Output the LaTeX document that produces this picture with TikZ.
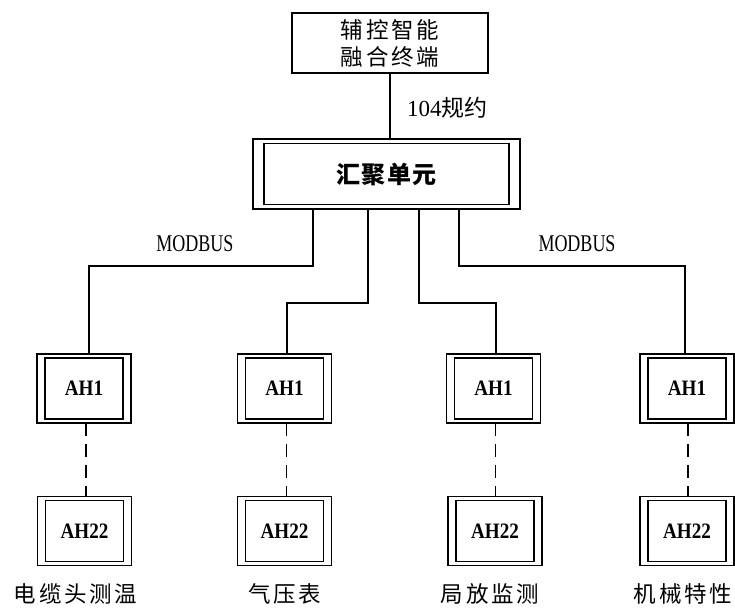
\documentclass[tikz,border=0pt]{standalone}
\usepackage{fontspec}
\setmainfont{Liberation Serif}
\newfontfamily\cjk[LetterSpace=12]{Noto Sans CJK SC}
\newfontfamily\cjkb[LetterSpace=6]{Noto Sans CJK SC}
\newfontfamily\cjkplain{Noto Sans CJK SC}
\begin{document}
\begin{tikzpicture}[x=1pt,y=-1pt,
  every node/.style={inner sep=0pt, outer sep=0pt},
  ln/.style={line width=1.3pt},
  dl/.style={line width=1.3pt, dash pattern=on 13pt off 8pt},
  dbox/.style n args={4}{draw, line width=1.3pt, minimum width=#1, minimum height=#2,
    path picture={\draw[line width=1.3pt] ([shift={(#3,#4)}]path picture bounding box.south west) rectangle ([shift={(-#3,-#4)}]path picture bounding box.north east);}},
  sbox/.style={draw, line width=1.3pt, minimum width=196pt, minimum height=60pt, align=center},
  ah/.style={dbox={94pt}{69pt}{8pt}{4pt}, font=\bfseries\fontsize{22}{26}\selectfont},
  lab/.style={font=\cjk\fontsize{22.5}{26}\selectfont},
  mb/.style={font=\fontsize{24}{28}\selectfont}
]
\fill[white] (0,0) rectangle (735,607);
\useasboundingbox (0,0) rectangle (735,607);

\node[sbox, font=\cjk\fontsize{22.5}{27}\selectfont] (top) at (390,43) {辅控智能\\融合终端};
\node[dbox={267pt}{70pt}{11pt}{4.5pt}, font=\cjkb\bfseries\fontsize{24}{28}\selectfont] (agg) at (386.5,174) {汇聚单元};

\node[ah] (a1) at (84,388.5) {\scalebox{0.87}[1]{AH1}};
\node[ah] (a2) at (284.5,388.5) {\scalebox{0.87}[1]{AH1}};
\node[ah] (a3) at (493.5,388.5) {\scalebox{0.87}[1]{AH1}};
\node[ah] (a4) at (687,388.5) {\scalebox{0.87}[1]{AH1}};

\node[ah] (b1) at (84.5,531) {\scalebox{0.87}[1]{AH22}};
\node[ah] (b2) at (284.5,531) {\scalebox{0.87}[1]{AH22}};
\node[ah] (b3) at (495,531) {\scalebox{0.87}[1]{AH22}};
\node[ah] (b4) at (687,531) {\scalebox{0.87}[1]{AH22}};

\node[lab] (l1) at (75.5,594) {电缆头测温};
\node[lab] (l2) at (284.5,594) {气压表};
\node[lab] (l3) at (490,594) {局放监测};
\node[lab] (l4) at (683,594) {机械特性};

\node[anchor=west, font=\fontsize{23}{27}\selectfont] (p104) at (407,108) {104{\cjkplain\fontsize{23}{27}\selectfont 规约}};
\node[mb] (m1) at (195,244) {\scalebox{0.75}[1]{MODBUS}};
\node[mb] (m2) at (577,244) {\scalebox{0.75}[1]{MODBUS}};

\draw[ln] (top.south) -- (top.south |- agg.north);
\draw[ln] ([xshift=-73.5pt]agg.south) -- ++(0,57) -| ([xshift=5pt]a1.north);
\draw[ln] ([xshift=-18.5pt]agg.south) -- ++(0,94) -| ([xshift=2.5pt]a2.north);
\draw[ln] ([xshift=32.5pt]agg.south) -- ++(0,94) -| ([xshift=2.5pt]a3.north);
\draw[ln] ([xshift=72.5pt]agg.south) -- ++(0,57) -| ([xshift=-2pt]a4.north);

\draw[dl] ([xshift=2pt]a1.south) -- ([xshift=2pt]a1.south |- b1.north);
\draw[dl] ([xshift=2pt]a2.south) -- ([xshift=2pt]a2.south |- b2.north);
\draw[dl] ([xshift=2pt]a3.south) -- ([xshift=2pt]a3.south |- b3.north);
\draw[dl] ([xshift=1pt]a4.south) -- ([xshift=1pt]a4.south |- b4.north);
\end{tikzpicture}
\end{document}
